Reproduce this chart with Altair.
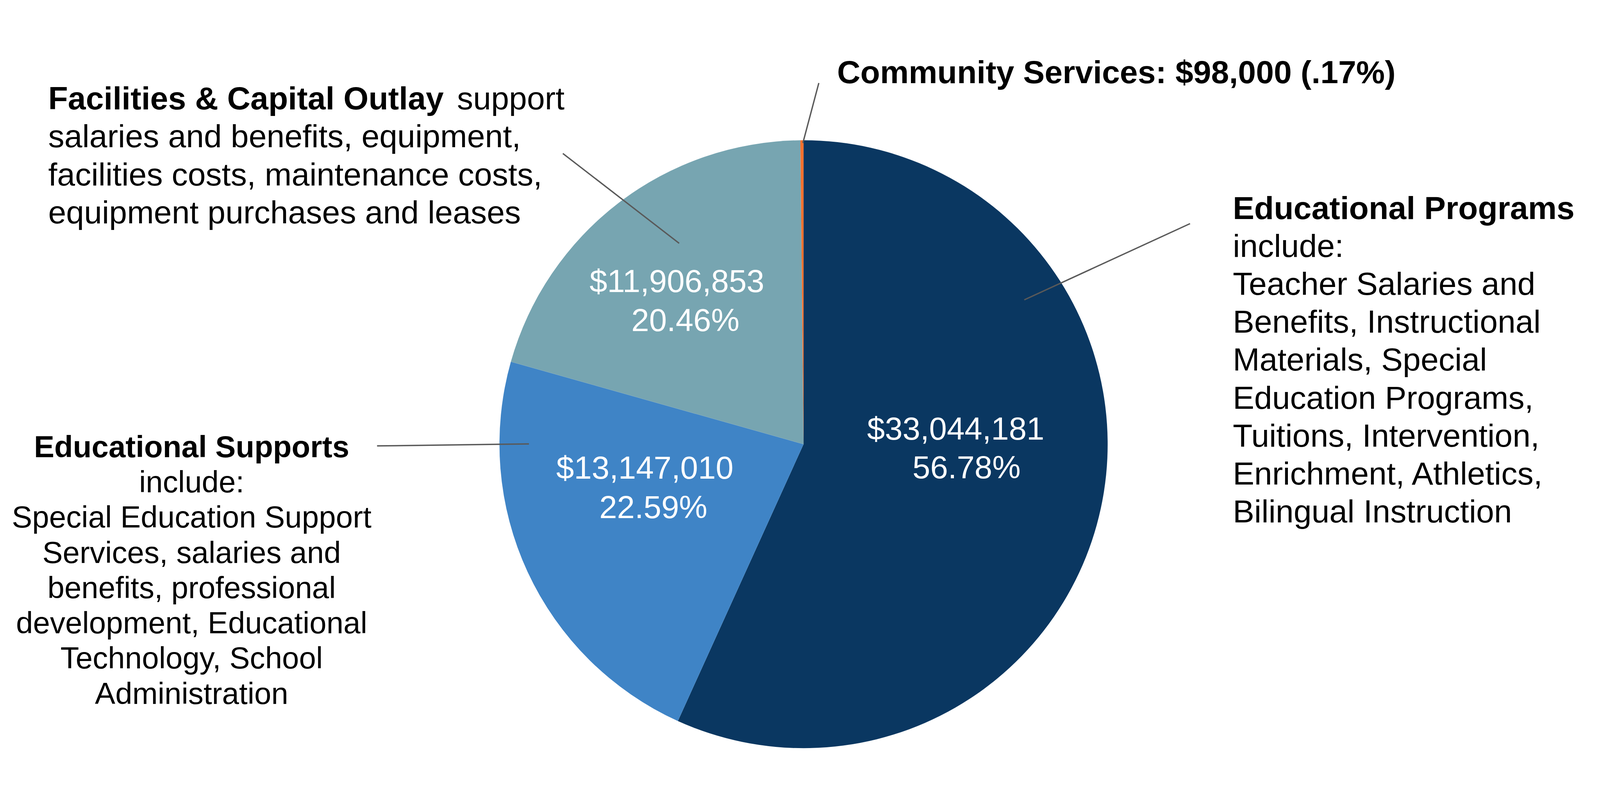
import altair as alt
import pandas as pd

# ---- data ----
categories = ["Educational Programs", "Educational Supports",
              "Facilities & Capital Outlay", "Community Services"]
amounts = [33044181, 13147010, 11906853, 98000]
amount_labels = ["$33,044,181", "$13,147,010", "$11,906,853", "$98,000"]
percent_labels = ["56.78%", "22.59%", "20.46%", ".17%"]
colors = ["#0A3761", "#3F84C6", "#77A5B1", "#F4712F"]

programs_title = "Educational Programs"
programs_lines = ["include:", "Teacher Salaries and", "Benefits, Instructional",
                  "Materials, Special", "Education Programs,", "Tuitions, Intervention,",
                  "Enrichment, Athletics,", "Bilingual Instruction"]
supports_title = "Educational Supports"
supports_lines = ["include:", "Special Education Support", "Services, salaries and",
                  "benefits, professional", "development, Educational",
                  "Technology, School", "Administration"]
facilities_title = "Facilities & Capital Outlay"
facilities_first_rest = "support"
facilities_lines = ["salaries and benefits, equipment,", "facilities costs, maintenance costs,",
                    "equipment purchases and leases"]
community_title = "Community Services: $98,000 (.17%)"

# ---- layout / style ----
W, H = 4701, 2033
CX, CY, R = 2361, 1147, 897
FONT = "Liberation Sans"
LEADER = "#595959"

df = pd.DataFrame({
    "cat": categories,
    "amount": amounts,
    "amt": amount_labels,
    "pct": percent_labels,
    "idx": list(range(len(categories))),
})
dummy = pd.DataFrame({"k": [0]})

theta = alt.Theta("amount:Q", stack=True)
order = alt.Order("idx:Q", sort="ascending")

pie = alt.Chart(df).mark_arc(radius=R).encode(
    theta=theta,
    order=order,
    color=alt.Color("cat:N", scale=alt.Scale(domain=categories, range=colors), legend=None),
    x=alt.value(CX), y=alt.value(CY),
)


def value_line(cat, field, dx, dy):
    return alt.Chart(df).transform_calculate(
        lbl=f"datum.cat === '{cat}' ? datum.{field} : ''"
    ).mark_text(
        radius=450, dx=dx, dy=dy, fontSize=94, font=FONT, color="white",
        align="center", baseline="alphabetic",
    ).encode(theta=theta, order=order, text="lbl:N",
             x=alt.value(CX), y=alt.value(CY))


def ann(lines, x, y, bold=False, align="left", size=95, lh=112):
    return alt.Chart(dummy).mark_text(
        align=align, baseline="alphabetic", fontSize=size, font=FONT,
        fontWeight="bold" if bold else "normal", lineHeight=lh, color="black",
    ).encode(x=alt.value(x), y=alt.value(y), text=alt.value(lines))


def leader(x1, y1, x2, y2):
    return alt.Chart(dummy).mark_rule(color=LEADER, strokeWidth=4).encode(
        x=alt.value(x1), y=alt.value(y1), x2=alt.value(x2), y2=alt.value(y2))


layers = [
    pie,
    value_line(categories[0], "amt", 9, -109),
    value_line(categories[0], "pct", 41, 5),
    value_line(categories[1], "amt", -60, -88),
    value_line(categories[1], "pct", -35, 28),
    value_line(categories[2], "amt", -100, -92),
    value_line(categories[2], "pct", -75, 23),
    leader(2359, 258, 2406, 81),
    leader(1651, 289, 1994, 554),
    leader(1103, 1152, 1551, 1146),
    leader(3501, 496, 3012, 721),
    ann(community_title, 2460, 82, bold=True),
    ann(facilities_title, 133, 159, bold=True),
    ann(facilities_first_rest, 1339, 159),
    ann(facilities_lines, 133, 271),
    ann(programs_title, 3627, 482, bold=True),
    ann(programs_lines, 3627, 594),
    ann(supports_title, 556, 1185, bold=True, align="center", size=90, lh=104),
    ann(supports_lines, 556, 1289, align="center", size=90, lh=104),
]

chart = alt.layer(*layers).properties(
    width=W, height=H,
    autosize=alt.AutoSizeParams(type="fit", contains="padding"),
    padding=0,
    background="white",
).configure_view(strokeWidth=0)

chart.save("out.html", embed_options={"renderer": "svg", "actions": False})
